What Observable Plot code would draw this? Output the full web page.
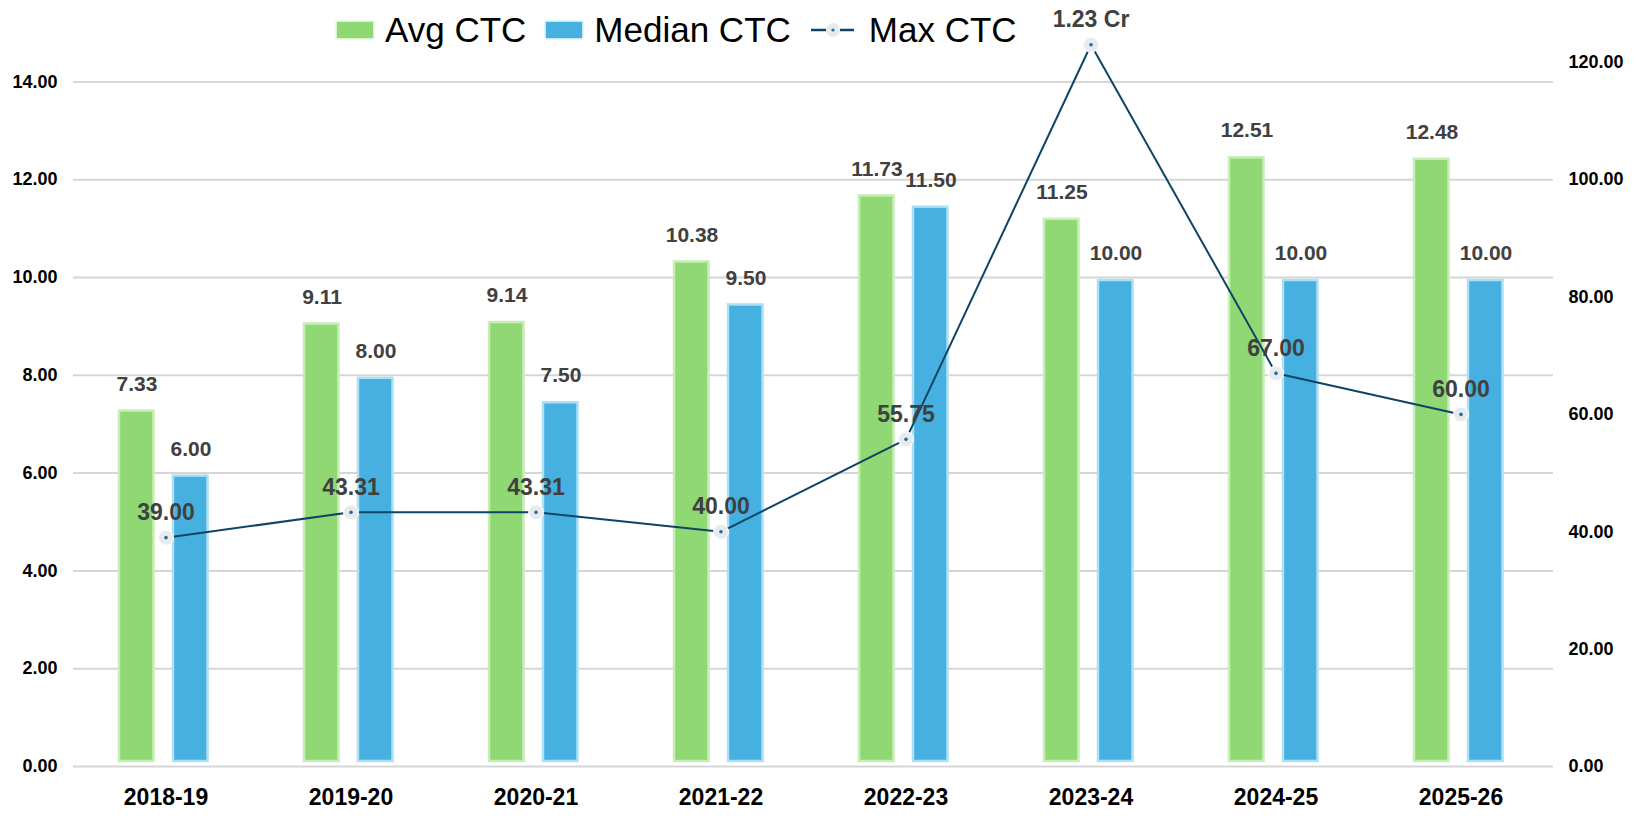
<!DOCTYPE html>
<html>
<head>
<meta charset="utf-8">
<script src="https://cdn.jsdelivr.net/npm/d3@7"></script>
<script src="https://cdn.jsdelivr.net/npm/@observablehq/plot@0.6"></script>
<style>
  html, body { margin: 0; padding: 0; background: #fff; }
  #wrap { position: relative; width: 1638px; height: 820px; font-family: "Liberation Sans", Arial, sans-serif; }
  #legend { position: absolute; top: 10px; left: 337px; height: 40px; display: flex; align-items: center; font-size: 35px; line-height: 40px; color: #000; white-space: nowrap; }
  .sw { display: inline-block; width: 36px; height: 16px; margin-right: 12px; }
  .item { display: flex; align-items: center; margin-right: 20px; }
</style>
</head>
<body>
<div id="wrap">
  <div id="chart"></div>
  <div id="legend"></div>
</div>
<script>
const years = ["2018-19", "2019-20", "2020-21", "2021-22", "2022-23", "2023-24", "2024-25", "2025-26"];
const avgCTC = [7.33, 9.11, 9.14, 10.38, 11.73, 11.25, 12.51, 12.48];
const medianCTC = [6.00, 8.00, 7.50, 9.50, 11.50, 10.00, 10.00, 10.00];
const maxCTC = [39.00, 43.31, 43.31, 40.00, 55.75, 123.00, 67.00, 60.00];
const leftTicks = [0, 2, 4, 6, 8, 10, 12, 14];
const rightTicks = [0, 20, 40, 60, 80, 100, 120];

const seriesNames = ["Avg CTC", "Median CTC", "Max CTC"];
const colors = {avg: "#90d873", median: "#46b1e0", line: "#0e4466"};

const k = 0.12; // right-axis (Max CTC, lakhs) to left-axis scale factor

const data = years.map((y, i) => ({year: y, avg: avgCTC[i], median: medianCTC[i], max: maxCTC[i]}));
const fmtMax = v => v >= 100 ? (v / 100).toFixed(2) + " Cr" : v.toFixed(2);

const barLabel = {fontSize: 21, fontWeight: "bold", fill: "#404040"};
const lineLabel = {fontSize: 23, fontWeight: "bold", fill: "#404040"};

const chart = Plot.plot({
  width: 1638,
  height: 820,
  marginLeft: 73,
  marginRight: 85,
  marginBottom: 54,
  marginTop: 32.5,
  style: {fontFamily: "'Liberation Sans', Arial, sans-serif", background: "white"},
  x: {type: "band", domain: years, padding: 0, label: null},
  y: {domain: [0, 15], label: null},
  marks: [
    Plot.gridY(leftTicks, {stroke: "#d6d6d6", strokeOpacity: 1, strokeWidth: 2}),
    Plot.axisY({anchor: "left", ticks: leftTicks, tickFormat: d => d.toFixed(2), tickSize: 0, tickPadding: 16, fontSize: 18, fontWeight: "bold", fill: "#000", label: null}),
    Plot.axisY({anchor: "right", ticks: rightTicks.map(v => v * k), tickFormat: d => (d / k).toFixed(2), tickSize: 0, tickPadding: 15, fontSize: 18, fontWeight: "bold", fill: "#000", label: null}),
    Plot.axisX({tickSize: 0, tickPadding: 22, fontSize: 23, fontWeight: "bold", fill: "#000", label: null}),
    // bars with soft glow edge
    Plot.barY(data, {x: "year", y: "avg", insetLeft: 46, insetRight: 104.5, insetTop: 3, insetBottom: 5, fill: colors.avg, stroke: "#c8eeb8", strokeWidth: 2.5}),
    Plot.barY(data, {x: "year", y: "median", insetLeft: 100, insetRight: 50.5, insetTop: 3, insetBottom: 5, fill: colors.median, stroke: "#ade0f5", strokeWidth: 2.5}),
    Plot.text(data, {x: "year", y: "avg", text: d => d.avg.toFixed(2), dx: -29, dy: -24, ...barLabel}),
    Plot.text(data, {x: "year", y: "median", text: d => d.median.toFixed(2), dx: 25, dy: -24, ...barLabel}),
    // max CTC line on right axis
    Plot.line(data, {x: "year", y: d => d.max * k, stroke: colors.line, strokeWidth: 2}),
    Plot.dot(data, {x: "year", y: d => d.max * k, r: 7.5, fill: "#e8eaed", stroke: "#ffffff", strokeWidth: 1}),
    Plot.dot(data, {x: "year", y: d => d.max * k, r: 1.8, fill: "#1f6fa0"}),
    Plot.text(data, {x: "year", y: d => d.max * k, text: d => fmtMax(d.max), dy: -25, ...lineLabel})
  ]
});
document.getElementById("chart").appendChild(chart);

// legend
const legend = document.getElementById("legend");
const items = [
  {name: seriesNames[0], type: "box", color: colors.avg, edge: "#c8eeb8"},
  {name: seriesNames[1], type: "box", color: colors.median, edge: "#ade0f5"},
  {name: seriesNames[2], type: "line", color: colors.line}
];
items.forEach(it => {
  const el = document.createElement("div");
  el.className = "item";
  if (it.type === "box") {
    const sw = document.createElement("span");
    sw.className = "sw";
    sw.style.background = it.color;
    sw.style.boxShadow = `0 0 2px 1px ${it.edge}`;
    el.appendChild(sw);
  } else {
    const ns = "http://www.w3.org/2000/svg";
    const svg = document.createElementNS(ns, "svg");
    svg.setAttribute("width", "43");
    svg.setAttribute("height", "20");
    svg.style.marginRight = "15px";
    svg.innerHTML = `<line x1="0" y1="10" x2="15" y2="10" stroke="${it.color}" stroke-width="2.5"/>
      <line x1="29" y1="10" x2="43" y2="10" stroke="${it.color}" stroke-width="2.5"/>
      <circle cx="22" cy="10" r="7" fill="#e8eaed"/><circle cx="22" cy="10" r="1.6" fill="#1f6fa0"/>`;
    el.appendChild(svg);
  }
  const t = document.createElement("span");
  t.textContent = it.name;
  el.appendChild(t);
  legend.appendChild(el);
});
</script>
</body>
</html>
